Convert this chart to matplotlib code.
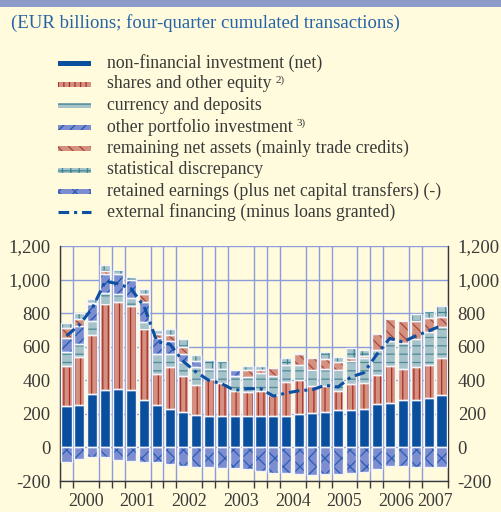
import matplotlib
matplotlib.use('Agg')
import matplotlib.pyplot as plt
from matplotlib.patches import Rectangle
from matplotlib.lines import Line2D
import numpy as np

plt.rcParams['font.family'] = ['Liberation Serif', 'DejaVu Serif']
plt.rcParams['hatch.linewidth'] = 0.9

# ---- data (EUR billions, quarterly 2000Q1 - 2007Q2) ----
year_labels = ['2000', '2001', '2002', '2003', '2004', '2005', '2006', '2007']
nonfin = [244, 254, 320, 344, 350, 342, 284, 250, 230, 214, 196, 186, 190, 190, 186,
          190, 186, 190, 200, 206, 210, 222, 222, 230, 256, 266, 280, 284, 294, 314]
shares = [240, 286, 350, 510, 516, 498, 422, 186, 250, 212, 178, 220, 196, 144, 144,
          144, 124, 200, 204, 160, 156, 114, 158, 156, 178, 220, 190, 196, 200, 220]
currency = [86, 74, 84, 66, 48, 50, 44, 118, 74, 80, 106, 64, 84, 92, 90,
            112, 116, 100, 90, 98, 100, 124, 134, 144, 146, 148, 150, 166, 192, 186]
other_port = [84, 110, 100, 116, 122, 106, 116, 96, 80, 48, 34, 0, 0, 34, 0,
              0, 0, 0, 0, 0, 0, 0, 0, 0, 0, 0, 0, 0, 0, 0]
remaining = [56, 42, 4, 16, 0, 0, 50, 26, 36, 46, 0, 0, 0, 0, 40,
             14, 48, 0, 60, 70, 60, 46, 16, 16, 94, 132, 134, 108, 84, 60]
stat_disc = [30, 32, 26, 34, 24, 22, 26, 24, 36, 46, 36, 50, 44, 0, 26,
             26, 0, 40, 6, 0, 44, 34, 64, 34, 0, 0, 0, 40, 44, 60]
retained = [-84, -68, -58, -55, -72, -78, -84, -88, -96, -108, -118, -118, -120, -125, -130,
            -140, -150, -155, -160, -162, -160, -160, -150, -146, -130, -112, -112, -114, -114, -114]
ext_fin = [664, 730, 830, 990, 975, 945, 840, 630, 615, 515, 450, 400, 380, 340, 350,
           350, 306, 324, 338, 344, 370, 360, 420, 445, 555, 650, 628, 664, 694, 726]

labels = ['non-financial investment (net)',
          'shares and other equity',
          'currency and deposits',
          'other portfolio investment',
          'remaining net assets (mainly trade credits)',
          'statistical discrepancy',
          'retained earnings (plus net capital transfers) (-)',
          'external financing (minus loans granted)']
sups = [None, '2)', None, '3)', None, None, None, None]

# face colour, hatch, hatch colour
styles = [('#0A4F9E', None, '#0A4F9E'),
          ('#D4917F', '|||', '#A8302A'),
          ('#A7C3CA', '--', '#4C8994'),
          ('#7D8ED0', '///', '#1F55B0'),
          ('#D4917F', '\\\\\\', '#A8463A'),
          ('#A7C3CA', '++', '#3F8590'),
          ('#7D8ED0', 'xx', '#2A5BB5')]

BG = '#FFFBDC'
GRID = '#8C9BDB'
TXT = '#3A3A3A'
LINE = '#0D4FA0'
DASH = (0, (3.5, 1.6, 1, 1.6))

fig = plt.figure(figsize=(5.01, 5.12), dpi=100)
fig.patch.set_facecolor(BG)

# top band
fig.add_artist(Rectangle((0, 1 - 7 / 512), 1, 7 / 512, transform=fig.transFigure,
                         facecolor='#8D9BCB', edgecolor='none'))

fig.text(11 / 501, 1 - 23 / 512, '(EUR billions; four-quarter cumulated transactions)',
         color='#2463A8', fontsize=13.5, va='center', ha='left')

ax = fig.add_axes([60 / 501, 31 / 512, 388 / 501, 235 / 512])
ax.set_facecolor(BG)

n = len(nonfin)
x = np.arange(n)
w = 0.78

pos_series = [nonfin, shares, currency, other_port, remaining, stat_disc]
bottom = np.zeros(n)
segs = []
for vals, (fc, hat, hc) in zip(pos_series, styles[:6]):
    vals = np.array(vals, dtype=float)
    ax.bar(x, vals, w, bottom=bottom, color=fc, hatch=hat, edgecolor=hc,
           linewidth=0, zorder=3)
    segs.append((vals.copy(), bottom.copy()))
    bottom = bottom + vals

fc, hat, hc = styles[6]
ret = np.array(retained, dtype=float)
ax.bar(x, ret, w, color=fc, hatch=hat, edgecolor=hc, linewidth=0, zorder=3)
segs.append((ret, np.zeros(n)))

# light outlines round every segment
for vals, bot in segs:
    m = vals != 0
    ax.bar(x[m], vals[m], w, bottom=bot[m], fill=False, edgecolor='#F3F5FB',
           linewidth=1.0, zorder=4)

ax.plot(x, ext_fin, color=LINE, linewidth=2.2, linestyle=DASH, zorder=5)

ax.set_xlim(-0.5, n - 0.5)
ax.set_ylim(-200, 1200)

ax.set_yticks(np.arange(-200, 1201, 200))
ax.set_yticklabels([f'{v:,}' for v in range(-200, 1201, 200)])
ax.set_xticks(np.arange(-0.5, n, 1), minor=True)
ax.set_xticks([1.5, 5.5, 9.5, 13.5, 17.5, 21.5, 25.5, 28.5])
ax.set_xticklabels(year_labels)

ax.grid(True, which='minor', axis='x', color=GRID, linewidth=1.0, zorder=0)
ax.grid(True, which='major', axis='y', color=GRID, linewidth=1.0, zorder=0)
ax.set_axisbelow(True)

ax.tick_params(axis='y', which='both', length=0, labelleft=True, labelright=True,
               labelsize=13.5, colors=TXT, pad=7)
ax.tick_params(axis='x', which='major', length=0, labelsize=13, colors=TXT, pad=9)
ax.tick_params(axis='x', which='minor', length=5, width=1, color=TXT, direction='out')

for s in ['left', 'right', 'bottom']:
    ax.spines[s].set_color(TXT)
    ax.spines[s].set_linewidth(1.0)
ax.spines['top'].set_visible(False)

# legend drawn by hand
rows = [63, 84, 105, 127, 148, 170, 191, 212]
fig.canvas.draw()
rend = fig.canvas.get_renderer()
for i, (lab, row) in enumerate(zip(labels, rows)):
    yc = 1 - row / 512
    if i < 7:
        fc, hat, hc = styles[i]
        fig.add_artist(Rectangle((58 / 501, yc - 2.5 / 512), 33 / 501, 5 / 512,
                                 transform=fig.transFigure, facecolor=fc, hatch=hat,
                                 edgecolor=hc, linewidth=0))
    else:
        fig.add_artist(Line2D([58 / 501, 91 / 501], [yc, yc], transform=fig.transFigure,
                              color=LINE, linewidth=2.2, linestyle=DASH))
    t = fig.text(107 / 501, yc, lab, fontsize=12.8, color=TXT, va='center', ha='left')
    if sups[i]:
        bb = t.get_window_extent(renderer=rend)
        fig.text(bb.x1 / fig.bbox.width + 4 / 501, yc + 4 / 512, sups[i], fontsize=8,
                 color=TXT, va='center', ha='left')

fig.savefig('out.png', dpi=100, facecolor=BG)
